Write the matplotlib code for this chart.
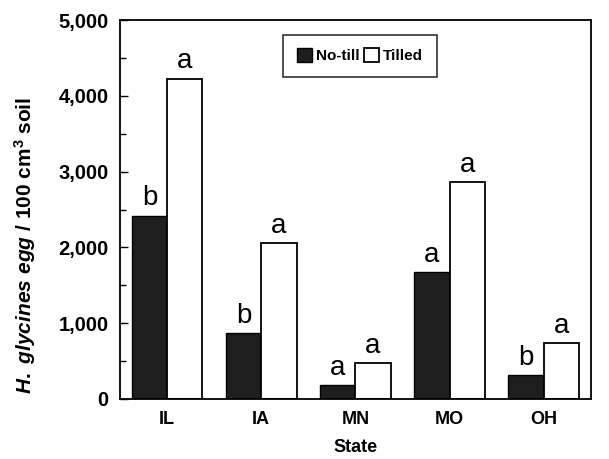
import matplotlib
matplotlib.use("Agg")
import matplotlib.pyplot as plt
import numpy as np
from matplotlib.ticker import MultipleLocator, FuncFormatter

states = ["IL", "IA", "MN", "MO", "OH"]
notill = [2420, 870, 185, 1675, 317]
tilled = [4230, 2058, 475, 2863, 739]
notill_letters = ["b", "b", "a", "a", "b"]
tilled_letters = ["a", "a", "a", "a", "a"]

plt.rcParams['font.family'] = ['Liberation Sans', 'DejaVu Sans']
plt.rcParams['mathtext.fontset'] = 'custom'
plt.rcParams['mathtext.rm'] = 'Liberation Sans:bold'
plt.rcParams['mathtext.it'] = 'Liberation Sans:italic:bold'
plt.rcParams['mathtext.bf'] = 'Liberation Sans:bold'

fig = plt.figure(figsize=(6.09, 4.59), dpi=100)
ax = fig.add_axes([0.197, 0.131, 0.773, 0.825])

x = np.arange(len(states))
w = 0.375
ax.bar(x - w/2, notill, w, color="#1e1e1e", edgecolor="black", linewidth=1.0, label="No-till")
ax.bar(x + w/2, tilled, w, color="white", edgecolor="black", linewidth=1.3, label="Tilled")

for xi, v, t in zip(x - w/2, notill, notill_letters):
    ax.text(xi, v + 55, t, ha="center", va="bottom", fontsize=20)
for xi, v, t in zip(x + w/2, tilled, tilled_letters):
    ax.text(xi, v + 55, t, ha="center", va="bottom", fontsize=20)

ax.set_xlim(-0.5, 4.5)
ax.set_ylim(0, 5000)
ax.set_xticks(x)
ax.set_xticklabels(states, fontsize=13, fontweight="bold")
ax.yaxis.set_major_locator(MultipleLocator(1000))
ax.yaxis.set_minor_locator(MultipleLocator(500))
ax.yaxis.set_major_formatter(FuncFormatter(lambda v, p: f"{int(v):,}"))
for lab in ax.get_yticklabels():
    lab.set_fontsize(14.5)
    lab.set_fontweight("bold")
ax.tick_params(axis="y", which="major", direction="in", length=6, width=1, pad=8)
ax.tick_params(axis="y", which="minor", direction="in", length=4, width=1)
ax.tick_params(axis="x", length=0, pad=9)
for s in ax.spines.values():
    s.set_linewidth(1.3)

ax.set_xlabel("State", fontsize=13, fontweight="bold", labelpad=8)
ax.set_ylabel(r"$\mathit{H.\ glycines\ egg}$ / 100 cm$^3$ soil", fontsize=15, fontweight="bold", labelpad=10)
ax.yaxis.set_label_coords(-0.174, 0.405)

leg = ax.legend(loc="upper center", bbox_to_anchor=(0.51, 0.962), ncol=2,
                prop={"weight": "bold", "size": 11}, frameon=True, fancybox=False,
                edgecolor="black", handlelength=1.0, handleheight=1.0, handletextpad=0.25,
                columnspacing=0.3, borderpad=0.9, borderaxespad=0)
leg.get_frame().set_linewidth(1.2)

fig.savefig("out.png", dpi=100)
